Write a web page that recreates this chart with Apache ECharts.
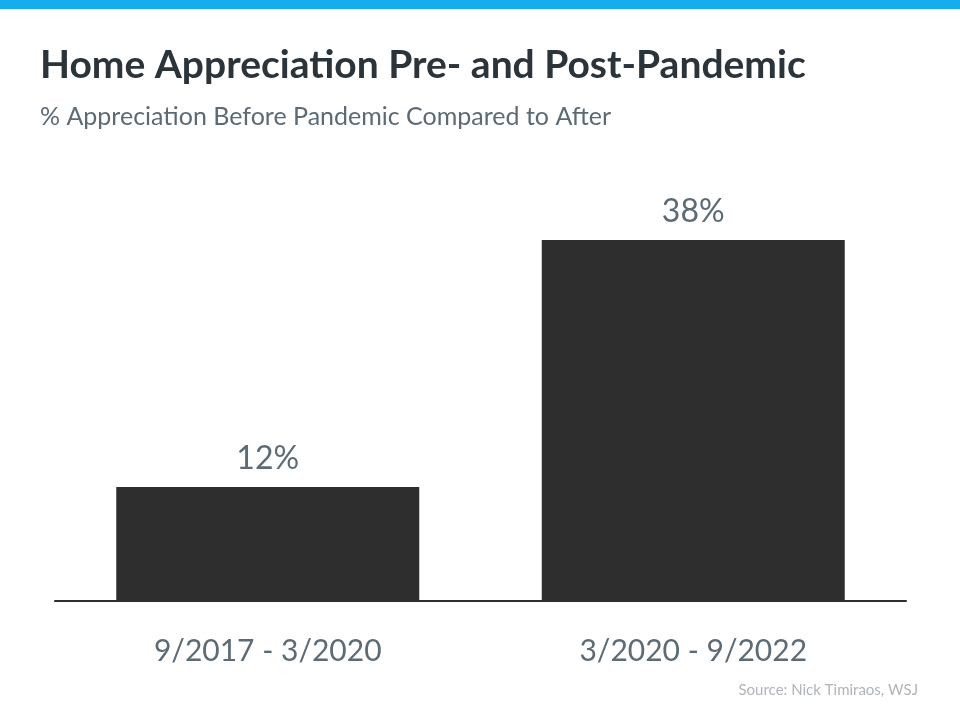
<!DOCTYPE html>
<html><head><meta charset="utf-8">
<script src="https://cdn.jsdelivr.net/npm/echarts@6/dist/echarts.min.js"></script>
<style>html,body{margin:0;padding:0;background:#fff}#c{width:960px;height:720px}</style>
</head><body><div id="c"></div>
<script>
const categories = ["9/2017 - 3/2020", "3/2020 - 9/2022"];
const values = [12, 38];
const titleText = "Home Appreciation Pre- and Post-Pandemic";
const subtitleText = "% Appreciation Before Pandemic Compared to After";
const sourceText = "Source: Nick Timiraos, WSJ";

const chart = echarts.init(document.getElementById('c'), null, {renderer: 'canvas'});
const FONT = 'Lato';
chart.setOption({
  backgroundColor: '#ffffff',
  animation: false,
  graphic: [
    {type: 'rect', left: 0, top: 0, shape: {width: 960, height: 9}, style: {fill: '#15ADEE'}},
    {type: 'text', left: 40, top: 46, style: {text: titleText, font: 'bold 39px ' + FONT, fill: '#2b333b'}},
    {type: 'text', left: 40, top: 104, style: {text: subtitleText, font: '25px ' + FONT, fill: '#5b6a74'}},
    {type: 'text', right: 42, top: 683, style: {text: sourceText, font: '15px ' + FONT, fill: '#b0b4b8'}}
  ],
  grid: {left: 55, right: 54, top: 221, bottom: 119},
  xAxis: {
    type: 'category', data: categories,
    axisLine: {lineStyle: {color: '#2e2e2e', width: 2}},
    axisTick: {show: false},
    axisLabel: {fontFamily: FONT, fontSize: 30, color: '#5d6b75', margin: 35}
  },
  yAxis: {type: 'value', min: 0, max: 40, show: false, splitLine: {show: false}},
  series: [{
    type: 'bar', data: values, barWidth: 303,
    itemStyle: {color: '#2e2e2e'},
    label: {show: true, position: 'top', distance: 12, formatter: '{c}%', fontFamily: FONT, fontSize: 32, color: '#5d6b75'}
  }]
});
</script></body></html>
